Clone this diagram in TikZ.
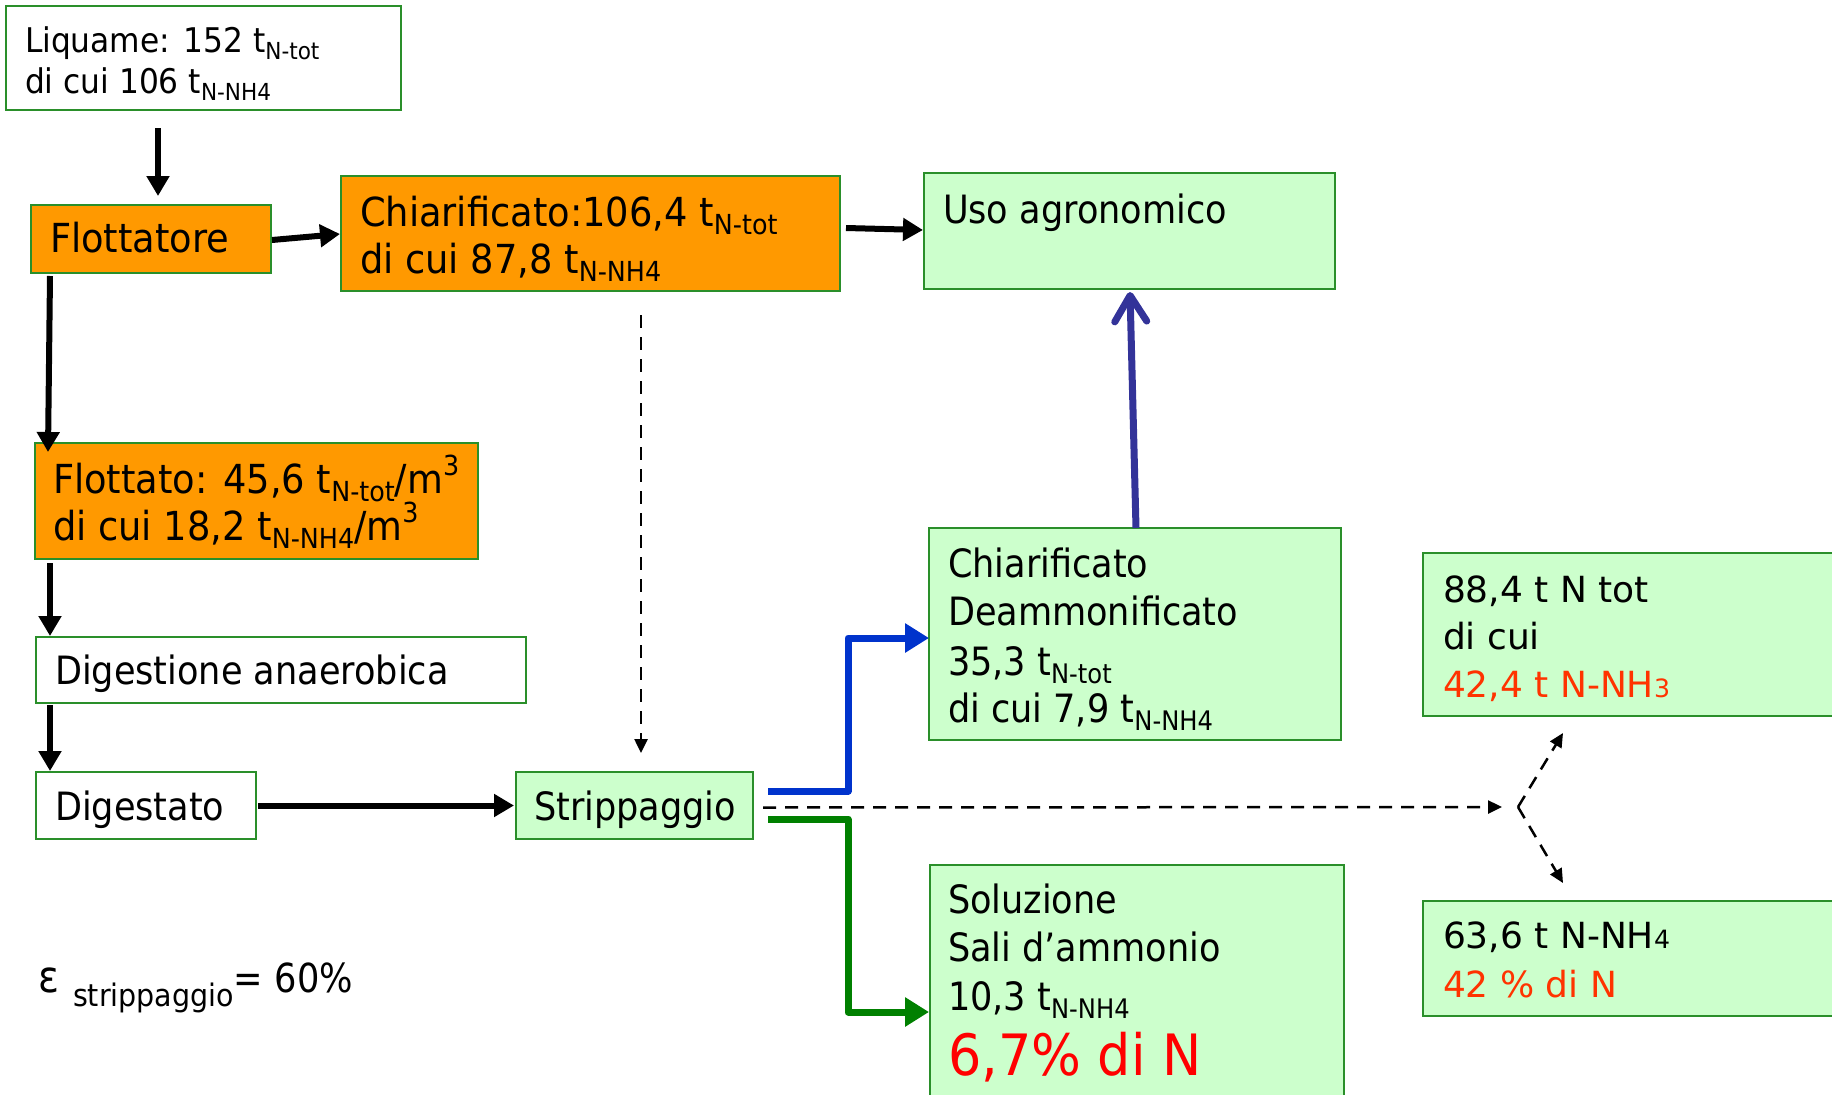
\documentclass[tikz,border=0pt]{standalone}
\usepackage{fontspec}
\setmainfont{DejaVu Sans}
\newfontfamily\fA[FakeStretch=0.90]{DejaVu Sans}
\newfontfamily\fB[FakeStretch=0.92]{DejaVu Sans}
\newfontfamily\fC[FakeStretch=0.88]{DejaVu Sans}
\usepackage{graphicx}
\usetikzlibrary{arrows.meta,calc}
\definecolor{bord}{HTML}{2A8F2A}
\definecolor{orng}{HTML}{FF9900}
\definecolor{lgrn}{HTML}{CCFFCC}
\definecolor{bluA}{HTML}{0033CC}
\definecolor{grnA}{HTML}{008000}
\definecolor{purA}{HTML}{333399}
\definecolor{redO}{HTML}{FF3300}
\definecolor{redR}{HTML}{FF0000}
\newcommand\sbx[1]{\raisebox{-0.22em}{\scalebox{0.69}{#1}}}
\newcommand\spx[1]{\raisebox{0.45em}{\scalebox{0.69}{#1}}}
\newcommand\fsz[1]{\fontsize{#1}{#1}\selectfont}
\tikzset{
  bx/.style={draw=bord, line width=2pt, inner sep=0pt, outer sep=0pt, anchor=north west},
  wbox/.style={bx, fill=white},
  obox/.style={bx, fill=orng},
  gbox/.style={bx, fill=lgrn},
  txt/.style={anchor=base west, inner sep=0pt, outer sep=0pt, font=\fA\fsz{39}},
  otxt/.style={txt, font=\fB\fsz{40}},
  ptxt/.style={anchor=base west, inner sep=0pt, outer sep=0pt, font=\fsz{36}},
  blk/.style={line width=6pt, -{Triangle[length=20pt,width=22pt]}},
  colarr/.style={line width=7pt, line join=round, -{Triangle[length=24pt,width=28pt]}},
  dsh/.style={line width=2.5pt, dash pattern=on 13pt off 9pt, -{Triangle[length=14pt,width=13pt]}},
}
\begin{document}
\begin{tikzpicture}[x=1pt,y=-1pt]
\useasboundingbox (0,0) rectangle (1832,1095);
% boxes
\node[wbox, minimum width=395pt, minimum height=104pt] (liq) at (6,6) {};
\node[obox, minimum width=240pt, minimum height=68pt] (flot) at (31,205) {};
\node[obox, minimum width=499pt, minimum height=115pt] (chia) at (341,176) {};
\node[gbox, minimum width=411pt, minimum height=116pt] (uso) at (924,173) {};
\node[obox, minimum width=443pt, minimum height=116pt] (flotato) at (35,443) {};
\node[wbox, minimum width=490pt, minimum height=66pt] (digan) at (36,637) {};
\node[wbox, minimum width=220pt, minimum height=67pt] (digest) at (36,772) {};
\node[gbox, minimum width=237pt, minimum height=67pt] (strip) at (516,772) {};
\node[gbox, minimum width=412pt, minimum height=212pt] (cdeam) at (929,528) {};
\node[gbox, minimum width=414pt, minimum height=260pt] (sol) at (930,865) {};
\node[gbox, minimum width=450pt, minimum height=163pt] (n88) at (1423,553) {};
\node[gbox, minimum width=450pt, minimum height=115pt] (n63) at (1423,901) {};
% texts
\node[txt, font=\fB\fsz{34}] (liqA) at (25,52) {Liquame: 152 t\sbx{N-tot}};
\node[txt, font=\fB\fsz{34}] (liqB) at (25,93) {di cui 106 t\sbx{N-NH4}};
\node[otxt] (flotA) at (50,252) {Flottatore};
\node[otxt] (chiaA) at (360,226) {Chiarificato:106,4 t\sbx{N-tot}};
\node[otxt] (chiaB) at (360,273) {di cui 87,8 t\sbx{N-NH4}};
\node[txt] (usoA) at (943,223) {Uso agronomico};
\node[otxt] (flotatoA) at (53,493) {Flottato: 45,6 t\sbx{N-tot}/m\spx{3}};
\node[otxt] (flotatoB) at (53,540) {di cui 18,2 t\sbx{N-NH4}/m\spx{3}};
\node[txt] (diganA) at (55,684) {Digestione anaerobica};
\node[txt] (digestA) at (55,820) {Digestato};
\node[txt] (stripA) at (534,820) {Strippaggio};
\node[txt] (cdeamA) at (948,577) {Chiarificato};
\node[txt] (cdeamB) at (948,625) {Deammonificato};
\node[txt] (cdeamC) at (948,675) {35,3 t\sbx{N-tot}};
\node[txt] (cdeamD) at (948,722) {di cui 7,9 t\sbx{N-NH4}};
\node[txt] (solA) at (948,913) {Soluzione};
\node[txt] (solB) at (948,961) {Sali d’ammonio};
\node[txt] (solC) at (948,1010) {10,3 t\sbx{N-NH4}};
\node[txt, font=\fB\fsz{57}, text=redR] (solD) at (948,1075) {6,7\% di N};
\node[ptxt] (n88A) at (1443,602) {88,4 t N tot};
\node[ptxt] (n88B) at (1443,649) {di cui};
\node[ptxt, text=redO] (n88C) at (1443,697) {42,4 t N-NH\scalebox{0.7}{3}};
\node[ptxt] (n63A) at (1443,948) {63,6 t N-NH\scalebox{0.7}{4}};
\node[ptxt, text=redO] (n63B) at (1443,997) {42 \% di N};
\node[txt, font=\fC\fsz{44}] (eps) at (38,992) {ε\hspace{0.32em}\raisebox{-14pt}{\fB\fsz{31}strippaggio}\fC\fsz{40}= 60\%};
% black arrows
\draw[blk] ($(liq.south west)+(152,18)$) -- ($(flot.north west)+(127,-9)$);
\draw[blk] ($(flot.south east)+(1,-33)$) -- ($(chia.north west)+(-1,58)$);
\draw[blk] ($(chia.north east)+(6,52)$) -- ($(uso.north west)+(-1,57)$);
\draw[blk] ($(flot.south west)+(19,3)$) -- ($(flotato.north west)+(13,9)$);
\draw[blk] ($(flotato.south west)+(15,4)$) -- ($(digan.north west)+(14,-1)$);
\draw[blk] ($(digan.south west)+(14,2)$) -- ($(digest.north west)+(14,-1)$);
\draw[blk] ($(digest.east)+(2,0)$) -- ($(strip.west)+(-2,0)$);
% purple
\draw[purA, line width=7pt, -{Straight Barb[length=26pt,width=32pt,round]}] ($(cdeam.north west)+(207,0)$) -- ($(uso.south west)+(206,3)$);
% blue and green
\coordinate (bs) at ($(strip.north east)+(15,19)$);
\coordinate (be) at ($(cdeam.north west)+(0,110)$);
\draw[colarr, bluA] (bs) -- ++(80,0) |- (be);
\coordinate (gs) at ($(strip.north east)+(15,47)$);
\coordinate (ge) at ($(sol.north west)+(-1,147)$);
\draw[colarr, grnA] (gs) -- ++(80,0) |- (ge);
% dashed
\draw[dsh] ($(chia.south west)+(300,24)$) -- ($(strip.north west)+(125,-19)$);
\coordinate (split) at (1518,807);
\draw[dsh] ($(strip.east)+(10,2)$) -- ($(split)+(-16,0)$);
\draw[dsh] (split) -- ($(n88.south west)+(140,17)$);
\draw[dsh] (split) -- ($(n63.north west)+(140,-18)$);
\end{tikzpicture}
\end{document}
